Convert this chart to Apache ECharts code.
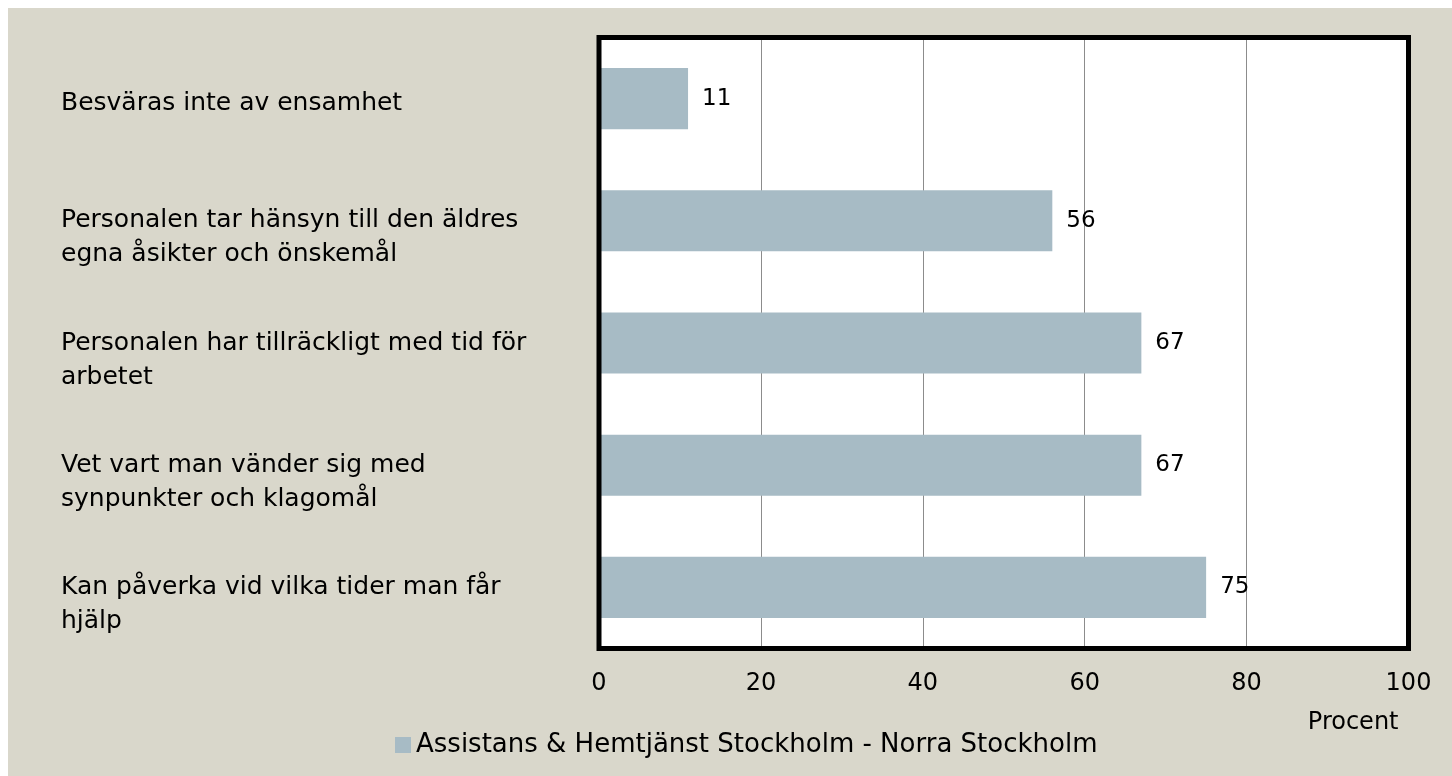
<!DOCTYPE html>
<html>
<head>
<meta charset="utf-8">
<script src="https://cdn.jsdelivr.net/npm/echarts@6/dist/echarts.min.js"></script>
<style>
    html, body { margin: 0; padding: 0; background: #ffffff; }
    #chart { position: absolute; left: 8px; top: 8px; width: 1444px; height: 768px; background: #d9d7cb; }
</style>
</head>
<body>
<div id="chart"></div>
<script>
// kategorier, uppifrån och ned
var categories = [
    'Besväras inte av ensamhet',
    'Personalen tar hänsyn till den äldres\negna åsikter och önskemål',
    'Personalen har tillräckligt med tid för\narbetet',
    'Vet vart man vänder sig med\nsynpunkter och klagomål',
    'Kan påverka vid vilka tider man får\nhjälp'
];
var values = [11, 56, 67, 67, 75];
var seriesName = 'Assistans & Hemtjänst Stockholm - Norra Stockholm';
var axisTicks = [0, 20, 40, 60, 80, 100];

var fontFam = 'DejaVu Sans';
var chart = echarts.init(document.getElementById('chart'));

var plotBox = { left: 591, right: 43.5, top: 29.5, bottom: 127.5 };

var option = {
    backgroundColor: 'transparent',
    textStyle: { fontFamily: fontFam },
    grid: [
        Object.assign({ show: true, borderWidth: 0, backgroundColor: '#fff', z: 0 }, plotBox),
        // svart ram ovanpå staplarna
        Object.assign({ show: true, borderWidth: 5, borderColor: '#000', backgroundColor: 'transparent', z: 10 }, plotBox)
    ],
    legend: {
        data: [seriesName],
        left: 382,
        top: 719,
        itemWidth: 16,
        itemHeight: 16,
        itemGap: 6,
        icon: 'rect',
        textStyle: { fontSize: 26, color: '#000', fontFamily: fontFam }
    },
    xAxis: [{
        type: 'value',
        gridIndex: 0,
        min: axisTicks[0],
        max: axisTicks[axisTicks.length - 1],
        interval: 20,
        name: 'Procent',
        nameLocation: 'end',
        nameGap: 0,
        nameTextStyle: {
            fontSize: 24, color: '#000', fontFamily: fontFam,
            align: 'right', verticalAlign: 'top', padding: [62, 10, 0, 0]
        },
        axisLine: { show: false },
        axisTick: { show: false },
        axisLabel: { fontSize: 24, color: '#000', margin: 23, fontFamily: fontFam },
        splitLine: { show: true, showMinLine: false, showMaxLine: false, lineStyle: { color: '#8c8c8c', width: 1 } }
    }, {
        type: 'value', gridIndex: 1, show: false, min: 0, max: 100
    }],
    yAxis: [{
        type: 'category',
        gridIndex: 0,
        inverse: true,
        data: categories,
        axisLine: { show: false },
        axisTick: { show: false },
        splitLine: { show: false },
        axisLabel: {
            fontSize: 25,
            color: '#000',
            fontFamily: fontFam,
            align: 'left',
            margin: 538,
            lineHeight: 34,
            // tvåradiga etiketter börjar vid stapelns mitt
            formatter: function (v) {
                return v.indexOf('\n') >= 0 ? '\n' + v : '{s|' + v + '}';
            },
            rich: {
                s: { fontSize: 25, fontFamily: fontFam, color: '#000', lineHeight: 34, padding: [10, 0, 0, 0] }
            }
        }
    }, {
        type: 'category', gridIndex: 1, show: false, data: categories
    }],
    series: [{
        name: seriesName,
        type: 'bar',
        xAxisIndex: 0,
        yAxisIndex: 0,
        data: values,
        barCategoryGap: '50%',
        itemStyle: { color: '#a7bbc5' },
        label: {
            show: true,
            position: 'right',
            distance: 14,
            fontSize: 23,
            color: '#000',
            fontFamily: fontFam
        }
    }]
};
chart.setOption(option);
</script>
</body>
</html>
